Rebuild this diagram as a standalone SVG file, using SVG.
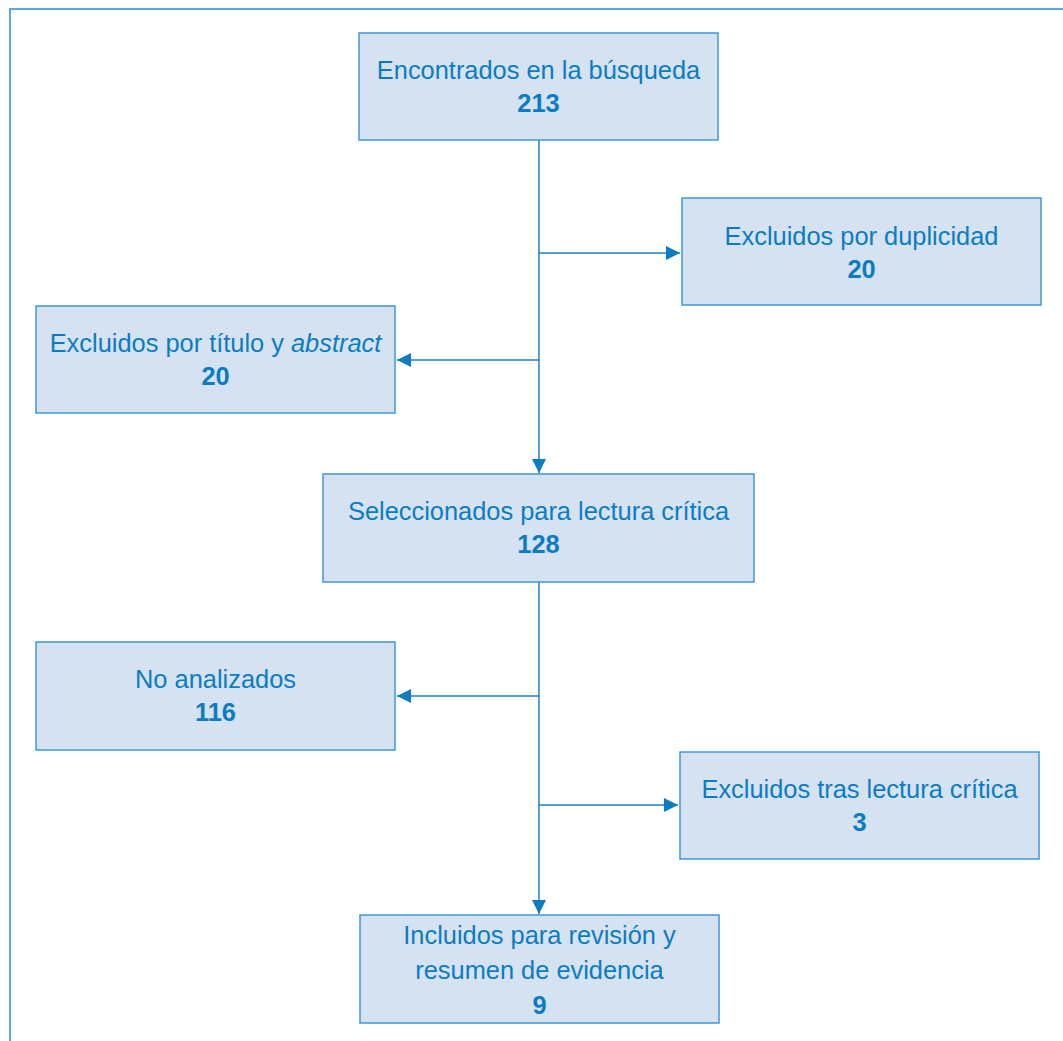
<svg xmlns="http://www.w3.org/2000/svg" width="1063" height="1041" viewBox="0 0 1063 1041">
<style>
.box{fill:#d5e2f1;stroke:#3f97d7;stroke-width:1.5}
.t{font-family:"Liberation Sans",Arial,sans-serif;font-size:25.4px;fill:#0b7cc4;text-anchor:middle}
.b{font-weight:bold}
.c{stroke:#1a80c6;stroke-width:1.5;fill:none}
.frame{stroke:#5aaadf;stroke-width:2;fill:none}
</style>
<defs>
<marker id="ah" viewBox="0 0 14 14" refX="14" refY="7" markerWidth="14" markerHeight="14" markerUnits="userSpaceOnUse" orient="auto">
<path d="M0,0 L14,7 L0,14 Z" fill="#0b7cc4"/>
</marker>
</defs>
<rect width="1063" height="1041" fill="#ffffff"/>
<path class="frame" d="M10,1041 V9 H1063"/>
<g id="connectors">
<path class="c" d="M539,140 V473" marker-end="url(#ah)"/>
<path class="c" d="M539,253 H680" marker-end="url(#ah)"/>
<path class="c" d="M539,360 H397" marker-end="url(#ah)"/>
<path class="c" d="M539,582 V914" marker-end="url(#ah)"/>
<path class="c" d="M539,696 H397" marker-end="url(#ah)"/>
<path class="c" d="M539,805 H678" marker-end="url(#ah)"/>
</g>
<g id="n1">
<rect class="box" x="359" y="33" width="359" height="107"/>
<text class="t" x="538.5" y="79">Encontrados en la búsqueda</text>
<text class="t b" x="538.5" y="112">213</text>
</g>
<g id="n2">
<rect class="box" x="682" y="198" width="359" height="107"/>
<text class="t" x="861.5" y="245">Excluidos por duplicidad</text>
<text class="t b" x="861.5" y="278">20</text>
</g>
<g id="n3">
<rect class="box" x="36" y="306" width="359" height="107"/>
<text class="t" x="215.5" y="352">Excluidos por título y <tspan font-style="italic">abstract</tspan></text>
<text class="t b" x="215.5" y="385">20</text>
</g>
<g id="n4">
<rect class="box" x="323" y="474" width="431" height="108"/>
<text class="t" x="538.5" y="520">Seleccionados para lectura crítica</text>
<text class="t b" x="538.5" y="553">128</text>
</g>
<g id="n5">
<rect class="box" x="36" y="642" width="359" height="108"/>
<text class="t" x="215.5" y="688">No analizados</text>
<text class="t b" x="215.5" y="721">116</text>
</g>
<g id="n6">
<rect class="box" x="680" y="752" width="359" height="107"/>
<text class="t" x="859.5" y="798">Excluidos tras lectura crítica</text>
<text class="t b" x="859.5" y="831">3</text>
</g>
<g id="n7">
<rect class="box" x="360" y="915" width="359" height="108"/>
<text class="t" x="539.5" y="944">Incluidos para revisión y</text>
<text class="t" x="539.5" y="979">resumen de evidencia</text>
<text class="t b" x="539.5" y="1014">9</text>
</g>
</svg>
